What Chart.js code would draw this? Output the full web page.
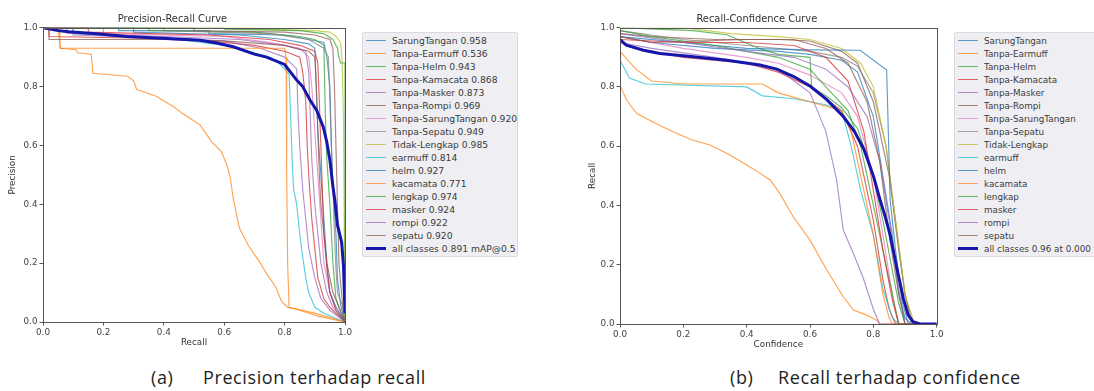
<!DOCTYPE html>
<html><head><meta charset="utf-8">
<script src="https://cdn.jsdelivr.net/npm/chart.js@4.4.0/dist/chart.umd.min.js"></script>
<style>
html,body{margin:0;padding:0;background:#fff;width:1094px;height:391px;overflow:hidden;position:relative;font-family:"DejaVu Sans",sans-serif;}
canvas{position:absolute;}
.legend{position:absolute;background:#efeff3;border:1px solid #d9d9de;border-radius:2px;box-sizing:border-box;padding-top:1px;font-size:9.2px;color:#3a3a3a;}
.row{height:13px;display:flex;align-items:center;white-space:nowrap;}
.sw{width:20px;margin-left:3px;margin-right:6px;flex:none;}
.cap{position:absolute;font-family:"Open Sans",sans-serif;font-size:18px;letter-spacing:0.6px;line-height:20px;color:#1e1e1e;white-space:nowrap;}
</style></head>
<body>
<canvas id="pr" width="355" height="355" style="left:0;top:0"></canvas>
<canvas id="rc" width="370" height="357" style="left:577px;top:0"></canvas>
<div id="legPR" class="legend" style="left:362px;top:32px;width:156px;height:225px"></div>
<div id="legRC" class="legend" style="left:954px;top:32px;width:146px;height:225px;font-size:8.8px"></div>
<div class="cap" style="left:151px;top:367px">(a)</div>
<div class="cap" style="left:203px;top:367px">Precision terhadap recall</div>
<div class="cap" style="left:730px;top:367px">(b)</div>
<div class="cap" style="left:778px;top:367px">Recall terhadap confidence</div>
<script>
// ---- categories / labels ----
const classNames = ["SarungTangan","Tanpa-Earmuff","Tanpa-Helm","Tanpa-Kamacata","Tanpa-Masker","Tanpa-Rompi","Tanpa-SarungTangan","Tanpa-Sepatu","Tidak-Lengkap","earmuff","helm","kacamata","lengkap","masker","rompi","sepatu"];
const apValues = ["0.958","0.536","0.943","0.868","0.873","0.969","0.920","0.949","0.985","0.814","0.927","0.771","0.974","0.924","0.922","0.920"];
const prAllLabel = "all classes 0.891 mAP@0.5";
const rcAllLabel = "all classes 0.96 at 0.000";
const tickValues = [0, 0.2, 0.4, 0.6, 0.8, 1.0];
const palette = ["#1f77b4","#ff7f0e","#2ca02c","#d62728","#9467bd","#8c564b","#e377c2","#7f7f7f","#bcbd22","#17becf"];

// ---- Precision-Recall curves: [recall, precision] ----
const prSarungTangan = [[0,1],[0.25,1],[0.25,0.99],[0.55,0.99],[0.55,0.98],[0.8,0.975],[0.88,0.96],[0.93,0.95],[0.94,0.9],[0.95,0.8],[0.955,0.6],[0.96,0.45],[0.97,0.3],[0.975,0.15],[0.985,0.06],[1,0]];
const prTanpaEarmuff = [[0,1],[0.05,1],[0.057,0.93],[0.11,0.925],[0.115,0.915],[0.16,0.91],[0.165,0.845],[0.28,0.835],[0.3,0.82],[0.31,0.79],[0.34,0.78],[0.375,0.767],[0.41,0.745],[0.43,0.733],[0.46,0.71],[0.49,0.69],[0.52,0.67],[0.54,0.64],[0.56,0.61],[0.59,0.58],[0.61,0.53],[0.62,0.49],[0.63,0.42],[0.64,0.37],[0.65,0.32],[0.68,0.26],[0.7,0.23],[0.72,0.2],[0.74,0.165],[0.77,0.12],[0.79,0.07],[0.81,0.05],[0.85,0.04],[0.91,0.02],[1,0]];
const prTanpaHelm = [[0,1],[0.35,1],[0.35,0.99],[0.7,0.985],[0.85,0.97],[0.9,0.96],[0.93,0.94],[0.935,0.7],[0.94,0.55],[0.95,0.4],[0.96,0.2],[0.97,0.08],[0.98,0.05],[1,0]];
const prTanpaKamacata = [[0,1],[0.02,1],[0.02,0.97],[0.3,0.965],[0.55,0.955],[0.7,0.94],[0.8,0.92],[0.85,0.9],[0.86,0.85],[0.87,0.75],[0.875,0.6],[0.88,0.5],[0.89,0.35],[0.9,0.25],[0.91,0.15],[0.93,0.08],[0.95,0.05],[1,0]];
const prTanpaMasker = [[0,1],[0.1,1],[0.1,0.975],[0.4,0.965],[0.6,0.955],[0.72,0.93],[0.8,0.9],[0.84,0.86],[0.845,0.7],[0.85,0.6],[0.86,0.45],[0.87,0.35],[0.88,0.25],[0.9,0.15],[0.92,0.08],[0.95,0.04],[1,0]];
const prTanpaRompi = [[0,1],[0.5,1],[0.5,0.99],[0.8,0.985],[0.9,0.975],[0.95,0.96],[0.96,0.93],[0.965,0.8],[0.97,0.6],[0.975,0.4],[0.98,0.2],[0.99,0.08],[1,0]];
const prTanpaSarungTangan = [[0,1],[0.2,1],[0.2,0.98],[0.6,0.97],[0.75,0.95],[0.85,0.93],[0.88,0.9],[0.89,0.8],[0.9,0.65],[0.91,0.5],[0.92,0.35],[0.93,0.2],[0.95,0.1],[0.97,0.05],[1,0]];
const prTanpaSepatu = [[0,1],[0.4,1],[0.4,0.99],[0.75,0.98],[0.88,0.96],[0.93,0.93],[0.945,0.9],[0.95,0.75],[0.955,0.6],[0.96,0.45],[0.965,0.3],[0.97,0.18],[0.975,0.1],[0.99,0.06],[1,0]];
const prTidakLengkap = [[0,1],[0.7,1],[0.7,0.995],[0.9,0.99],[0.95,0.985],[0.97,0.97],[0.985,0.95],[0.99,0.9],[0.995,0.7],[0.997,0.4],[1,0]];
const prEarmuff = [[0,1],[0.1,1],[0.1,0.98],[0.26,0.97],[0.45,0.96],[0.6,0.94],[0.68,0.92],[0.75,0.9],[0.78,0.88],[0.8,0.86],[0.815,0.84],[0.82,0.7],[0.825,0.55],[0.83,0.45],[0.84,0.4],[0.85,0.3],[0.86,0.22],[0.87,0.15],[0.88,0.1],[0.9,0.05],[0.93,0.03],[1,0]];
const prHelm = [[0,1],[0.3,1],[0.3,0.985],[0.65,0.975],[0.8,0.96],[0.88,0.945],[0.9,0.93],[0.905,0.8],[0.91,0.65],[0.92,0.5],[0.93,0.35],[0.94,0.2],[0.95,0.1],[0.97,0.05],[1,0]];
const prKacamata = [[0,1],[0.055,1],[0.057,0.93],[0.8,0.93],[0.805,0.9],[0.807,0.5],[0.81,0.2],[0.815,0.05],[0.9,0.03],[1,0]];
const prLengkap = [[0,1],[0.6,1],[0.6,0.995],[0.85,0.99],[0.93,0.98],[0.96,0.96],[0.975,0.93],[0.98,0.9],[0.985,0.88],[1,0.88],[1,0]];
const prMasker = [[0,1],[0.15,1],[0.15,0.985],[0.55,0.975],[0.75,0.96],[0.85,0.94],[0.9,0.92],[0.91,0.88],[0.915,0.75],[0.92,0.6],[0.925,0.45],[0.93,0.3],[0.94,0.18],[0.95,0.1],[0.97,0.04],[1,0]];
const prRompi = [[0,1],[0.08,1],[0.08,0.98],[0.4,0.97],[0.65,0.96],[0.8,0.94],[0.87,0.92],[0.88,0.85],[0.885,0.7],[0.89,0.55],[0.9,0.4],[0.91,0.3],[0.92,0.2],[0.94,0.1],[0.96,0.05],[1,0]];
const prSepatu = [[0,1],[0.02,1],[0.02,0.96],[0.4,0.96],[0.6,0.955],[0.8,0.94],[0.88,0.92],[0.9,0.9],[0.905,0.8],[0.91,0.65],[0.915,0.5],[0.92,0.4],[0.93,0.3],[0.94,0.2],[0.96,0.1],[0.98,0.05],[1,0]];
const prAllClasses = [[0,1],[0.05,0.99],[0.085,0.986],[0.167,0.98],[0.278,0.97],[0.41,0.963],[0.52,0.957],[0.575,0.948],[0.63,0.935],[0.7,0.91],[0.74,0.9],[0.8,0.875],[0.84,0.822],[0.86,0.8],[0.884,0.754],[0.906,0.72],[0.928,0.663],[0.94,0.61],[0.95,0.55],[0.96,0.46],[0.967,0.41],[0.975,0.33],[0.989,0.27],[0.995,0.19],[1,0.03]];

// ---- Recall-Confidence curves: [confidence, recall] ----
const rcSarungTangan = [[0,0.97],[0.1,0.95],[0.3,0.93],[0.5,0.92],[0.6,0.91],[0.7,0.89],[0.75,0.85],[0.8,0.7],[0.83,0.5],[0.86,0.3],[0.88,0.1],[0.9,0.02],[0.92,0],[1,0]];
const rcTanpaEarmuff = [[0,0.806],[0.021,0.755],[0.053,0.71],[0.126,0.67],[0.18,0.643],[0.23,0.62],[0.284,0.604],[0.337,0.576],[0.39,0.543],[0.44,0.51],[0.474,0.486],[0.505,0.44],[0.547,0.362],[0.6,0.283],[0.653,0.182],[0.705,0.092],[0.737,0.047],[0.779,0.03],[0.81,0.013],[0.82,0],[1,0]];
const rcTanpaHelm = [[0,1],[0.23,0.99],[0.337,0.976],[0.44,0.93],[0.5,0.91],[0.6,0.9],[0.605,0.8],[0.65,0.77],[0.7,0.73],[0.75,0.66],[0.8,0.5],[0.83,0.35],[0.86,0.18],[0.88,0.07],[0.9,0],[1,0]];
const rcTanpaKamacata = [[0,0.95],[0.05,0.93],[0.2,0.9],[0.4,0.88],[0.5,0.85],[0.6,0.8],[0.7,0.72],[0.75,0.6],[0.8,0.35],[0.83,0.15],[0.85,0.05],[0.87,0],[1,0]];
const rcTanpaMasker = [[0,0.95],[0.1,0.93],[0.3,0.9],[0.5,0.86],[0.6,0.78],[0.65,0.65],[0.684,0.486],[0.705,0.317],[0.737,0.238],[0.768,0.155],[0.8,0.05],[0.82,0],[1,0]];
const rcTanpaRompi = [[0,0.98],[0.1,0.97],[0.3,0.96],[0.5,0.96],[0.6,0.955],[0.7,0.92],[0.75,0.88],[0.8,0.75],[0.85,0.5],[0.88,0.25],[0.9,0.1],[0.92,0.02],[0.93,0],[1,0]];
const rcTanpaSarungTangan = [[0,0.97],[0.2,0.93],[0.4,0.9],[0.5,0.88],[0.6,0.84],[0.7,0.78],[0.75,0.7],[0.8,0.5],[0.83,0.3],[0.86,0.1],[0.88,0],[1,0]];
const rcTanpaSepatu = [[0,0.99],[0.2,0.96],[0.4,0.94],[0.6,0.92],[0.7,0.9],[0.75,0.87],[0.8,0.78],[0.84,0.6],[0.87,0.35],[0.9,0.1],[0.92,0],[1,0]];
const rcTidakLengkap = [[0,1],[0.2,1],[0.35,0.98],[0.5,0.97],[0.6,0.96],[0.7,0.93],[0.76,0.88],[0.8,0.8],[0.84,0.6],[0.87,0.35],[0.9,0.1],[0.93,0],[1,0]];
const rcEarmuff = [[0,0.89],[0.03,0.83],[0.08,0.81],[0.4,0.8],[0.45,0.77],[0.55,0.76],[0.65,0.74],[0.7,0.72],[0.73,0.6],[0.76,0.45],[0.8,0.3],[0.83,0.12],[0.86,0.02],[0.88,0],[1,0]];
const rcHelm = [[0,0.97],[0.2,0.95],[0.4,0.93],[0.6,0.925],[0.758,0.924],[0.842,0.857],[0.853,0.418],[0.87,0.25],[0.89,0.08],[0.91,0],[1,0]];
const rcKacamata = [[0,0.92],[0.05,0.86],[0.1,0.82],[0.2,0.81],[0.45,0.81],[0.5,0.78],[0.6,0.75],[0.7,0.72],[0.73,0.65],[0.76,0.5],[0.8,0.3],[0.83,0.1],[0.85,0.02],[0.86,0],[1,0]];
const rcLengkap = [[0,0.99],[0.1,0.97],[0.3,0.94],[0.5,0.9],[0.6,0.86],[0.65,0.8],[0.72,0.72],[0.76,0.6],[0.8,0.4],[0.83,0.25],[0.86,0.1],[0.88,0],[1,0]];
const rcMasker = [[0,0.96],[0.2,0.95],[0.4,0.95],[0.55,0.94],[0.65,0.9],[0.72,0.82],[0.77,0.65],[0.8,0.45],[0.83,0.25],[0.86,0.08],[0.88,0],[1,0]];
const rcRompi = [[0,0.98],[0.2,0.95],[0.4,0.92],[0.55,0.9],[0.65,0.86],[0.72,0.8],[0.78,0.7],[0.82,0.55],[0.85,0.35],[0.88,0.12],[0.9,0],[1,0]];
const rcSepatu = [[0,0.97],[0.1,0.95],[0.4,0.96],[0.55,0.96],[0.65,0.93],[0.72,0.88],[0.78,0.75],[0.82,0.55],[0.85,0.3],[0.88,0.1],[0.9,0],[1,0]];
const rcAllClasses = [[0,0.96],[0.02,0.941],[0.074,0.924],[0.126,0.913],[0.232,0.902],[0.337,0.89],[0.442,0.874],[0.495,0.86],[0.547,0.836],[0.6,0.803],[0.653,0.757],[0.705,0.7],[0.74,0.65],[0.77,0.59],[0.8,0.5],[0.821,0.42],[0.838,0.36],[0.853,0.3],[0.874,0.19],[0.895,0.085],[0.91,0.03],[0.925,0.008],[0.947,0],[1,0]];

const prSeries = [prSarungTangan,prTanpaEarmuff,prTanpaHelm,prTanpaKamacata,prTanpaMasker,prTanpaRompi,prTanpaSarungTangan,prTanpaSepatu,prTidakLengkap,prEarmuff,prHelm,prKacamata,prLengkap,prMasker,prRompi,prSepatu];
const rcSeries = [rcSarungTangan,rcTanpaEarmuff,rcTanpaHelm,rcTanpaKamacata,rcTanpaMasker,rcTanpaRompi,rcTanpaSarungTangan,rcTanpaSepatu,rcTidakLengkap,rcEarmuff,rcHelm,rcKacamata,rcLengkap,rcMasker,rcRompi,rcSepatu];

const allColor = "#1616aa";
const lineAlpha = "b8";
const FONT = "DejaVu Sans";

const framePlugin = {
  id: 'frame',
  afterDatasetsDraw(chart) {
    const a = chart.chartArea, c = chart.ctx;
    c.save(); c.strokeStyle = '#555'; c.lineWidth = 1;
    c.strokeRect(Math.round(a.left)+0.5, Math.round(a.top)+0.5, Math.round(a.right-a.left), Math.round(a.bottom-a.top));
    c.restore();
  }
};

function makeChart(id, title, xTitle, yTitle, series, allData, allLabel, labels, yPad, xPad) {
  const datasets = series.map((s, i) => ({
    label: labels[i],
    data: s.map(p => ({x: p[0], y: p[1]})),
    borderColor: palette[i % 10] + lineAlpha,
    borderWidth: 1.15, pointRadius: 0, showLine: true, fill: false, tension: 0,
    order: series.length - i
  }));
  datasets.push({label: allLabel, data: allData.map(p => ({x: p[0], y: p[1]})),
    borderColor: allColor, borderWidth: 3, pointRadius: 0, showLine: true, fill: false, order: 0});
  const tickFont = {family: FONT, size: 8.8};
  const mkScale = (t, horiz) => ({
    type: 'linear', min: 0, max: 1,
    afterBuildTicks: s => { s.ticks = tickValues.map(v => ({value: v})); },
    ticks: {callback: v => v.toFixed(1), font: tickFont, color: '#444', padding: 2, maxRotation: 0, autoSkip: false},
    grid: {display: true, drawOnChartArea: false, drawTicks: true, tickLength: 3.5, color: '#555'},
    border: {display: false},
    title: {display: true, text: t, font: {family: FONT, size: 8.8}, color: '#333',
      padding: horiz ? {top: 0, bottom: xPad} : {top: yPad, bottom: 0}},
    afterFit: s => { if (horiz) s.height = 33; else s.width = 43; }
  });
  return new Chart(document.getElementById(id), {
    type: 'scatter',
    data: {datasets},
    options: {
      responsive: false, animation: false, devicePixelRatio: 1,
      layout: {padding: {left: 0, right: id === 'pr' ? 10 : 10.3, top: 0, bottom: 0}},
      plugins: {
        legend: {display: false}, tooltip: {enabled: false},
        title: {display: true, text: title, font: {family: FONT, size: 9.9, weight: 'normal'}, color: '#333', padding: {top: 13.5, bottom: 2.3}}
      },
      scales: {x: mkScale(xTitle, true), y: mkScale(yTitle, false)}
    },
    plugins: [framePlugin]
  });
}

function makeLegend(id, labels, allLabel) {
  const el = document.getElementById(id);
  labels.forEach((t, i) => {
    const r = document.createElement('div'); r.className = 'row';
    r.innerHTML = '<span class="sw" style="height:1.3px;background:' + palette[i % 10] + lineAlpha + '"></span><span>' + t + '</span>';
    el.appendChild(r);
  });
  const r = document.createElement('div'); r.className = 'row';
  r.innerHTML = '<span class="sw" style="height:3px;background:' + allColor + '"></span><span>' + allLabel + '</span>';
  el.appendChild(r);
}

const prLabels = classNames.map((n, i) => n + ' ' + apValues[i]);
makeChart('pr', 'Precision-Recall Curve', 'Recall', 'Precision', prSeries, prAllClasses, prAllLabel, prLabels, 7, 7);
makeChart('rc', 'Recall-Confidence Curve', 'Confidence', 'Recall', rcSeries, rcAllClasses, rcAllLabel, classNames, 10, 7);
makeLegend('legPR', prLabels, prAllLabel);
makeLegend('legRC', classNames, rcAllLabel);
</script>
</body></html>
